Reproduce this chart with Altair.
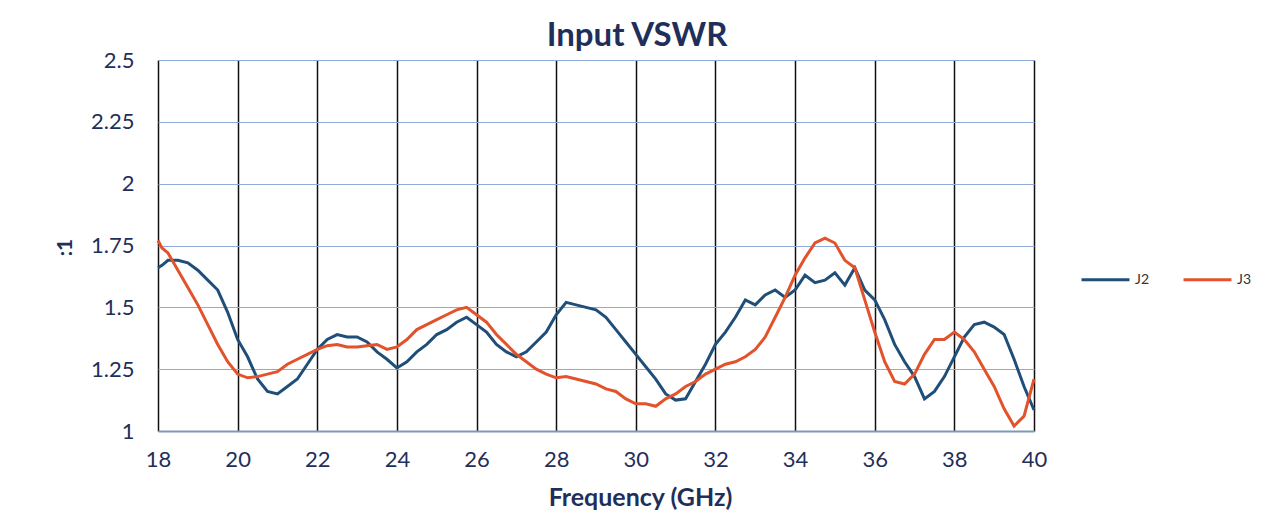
import altair as alt
import pandas as pd

freq = [18.0, 18.1, 18.25, 18.5, 18.75, 19.0, 19.25, 19.5, 19.75, 20.0, 20.25, 20.5, 20.75,
        21.0, 21.25, 21.5, 21.75, 22.0, 22.25, 22.5, 22.75, 23.0, 23.25, 23.5, 23.75,
        24.0, 24.25, 24.5, 24.75, 25.0, 25.25, 25.5, 25.75, 26.0, 26.25, 26.5, 26.75,
        27.0, 27.25, 27.5, 27.75, 28.0, 28.25, 28.5, 28.75, 29.0, 29.25, 29.5, 29.75,
        30.0, 30.25, 30.5, 30.75, 31.0, 31.25, 31.5, 31.75, 32.0, 32.25, 32.5, 32.75,
        33.0, 33.25, 33.5, 33.75, 34.0, 34.25, 34.5, 34.75, 35.0, 35.25, 35.5, 35.75,
        36.0, 36.25, 36.5, 36.75, 37.0, 37.25, 37.5, 37.75, 38.0, 38.25, 38.5, 38.75,
        39.0, 39.25, 39.5, 39.75, 40.0]

j2 = [1.66, 1.67, 1.69, 1.69, 1.68, 1.65, 1.61, 1.57, 1.48, 1.37, 1.30, 1.21, 1.16,
      1.15, 1.18, 1.21, 1.27, 1.33, 1.37, 1.39, 1.38, 1.38, 1.36, 1.32, 1.29,
      1.255, 1.28, 1.32, 1.35, 1.39, 1.41, 1.44, 1.46, 1.43, 1.40, 1.35, 1.32,
      1.30, 1.32, 1.36, 1.40, 1.47, 1.52, 1.51, 1.50, 1.49, 1.46, 1.41, 1.36,
      1.31, 1.26, 1.21, 1.15, 1.125, 1.13, 1.20, 1.27, 1.35, 1.40, 1.46, 1.53,
      1.51, 1.55, 1.57, 1.54, 1.57, 1.63, 1.60, 1.61, 1.64, 1.59, 1.66, 1.57,
      1.53, 1.45, 1.35, 1.28, 1.22, 1.13, 1.16, 1.22, 1.30, 1.38, 1.43, 1.44,
      1.42, 1.39, 1.29, 1.18, 1.085]

j3 = [1.77, 1.74, 1.72, 1.65, 1.58, 1.51, 1.43, 1.35, 1.28, 1.23, 1.215, 1.22, 1.23,
      1.24, 1.27, 1.29, 1.31, 1.33, 1.345, 1.35, 1.34, 1.34, 1.345, 1.35, 1.33,
      1.34, 1.37, 1.41, 1.43, 1.45, 1.47, 1.49, 1.50, 1.47, 1.44, 1.39, 1.35,
      1.31, 1.28, 1.25, 1.23, 1.215, 1.22, 1.21, 1.20, 1.19, 1.17, 1.16, 1.13,
      1.11, 1.11, 1.10, 1.13, 1.15, 1.18, 1.20, 1.23, 1.25, 1.27, 1.28, 1.30,
      1.33, 1.38, 1.46, 1.54, 1.63, 1.70, 1.76, 1.78, 1.76, 1.69, 1.66, 1.53,
      1.40, 1.28, 1.20, 1.19, 1.23, 1.31, 1.37, 1.37, 1.40, 1.37, 1.32, 1.25,
      1.18, 1.09, 1.02, 1.06, 1.21]

series = ["J2", "J3"]
colors = ["#1f4e79", "#e2522b"]
x_ticks = list(range(18, 41, 2))
y_ticks = [1, 1.25, 1.5, 1.75, 2, 2.25, 2.5]

df = pd.concat([
    pd.DataFrame({"freq": freq, "vswr": j2, "series": "J2"}),
    pd.DataFrame({"freq": freq, "vswr": j3, "series": "J3"}),
])

FONT = "Lato"
NAVY = "#1f2f5a"

chart = alt.Chart(df).mark_line(strokeWidth=3, interpolate="linear").encode(
    x=alt.X("freq:Q", scale=alt.Scale(domain=[18, 40], nice=False),
            axis=alt.Axis(values=x_ticks, title="Frequency (GHz)", grid=True,
                          gridColor="#111111", gridWidth=1.5, domainColor="#7f97b8",
                          domainWidth=2, ticks=False, labelPadding=18, labelFontSize=22,
                          labelFlush=False, labelColor=NAVY, titleFontSize=25,
                          titleFontWeight="bold", titleColor=NAVY, titleX=482, titleY=54,
                          labelFont=FONT, titleFont=FONT)),
    y=alt.Y("vswr:Q", scale=alt.Scale(domain=[1, 2.5], nice=False),
            axis=alt.Axis(values=y_ticks, labelExpr="'' + datum.value", title=":1",
                          grid=True, gridColor="#8eaad8", gridWidth=1, domain=False,
                          ticks=False, labelPadding=24, labelFontSize=22, labelColor=NAVY,
                          titleFontSize=21, titleFontWeight="bold", titleColor=NAVY,
                          titleAngle=270, titleX=-83, titleY=187, labelFont=FONT,
                          titleFont=FONT)),
    color=alt.Color("series:N", scale=alt.Scale(domain=series, range=colors),
                    legend=alt.Legend(title=None, orient="none", legendX=922, legendY=194,
                                      direction="horizontal", symbolType="stroke",
                                      symbolSize=2300, symbolStrokeWidth=3,
                                      labelFontSize=14, labelFont=FONT, labelColor="#333333",
                                      columnPadding=27, labelOffset=4)),
).properties(
    width=876, height=371,
    title=alt.TitleParams("Input VSWR", fontSize=33, fontWeight="bold", color=NAVY,
                          font=FONT, anchor="middle", dx=41, dy=18, offset=14),
    autosize=alt.AutoSizeParams(type="none"),
    padding={"left": 150, "top": 52, "right": 242, "bottom": 84},
).configure_view(stroke=None)

chart.save("out.html", embed_options={"renderer": "svg", "actions": False})
